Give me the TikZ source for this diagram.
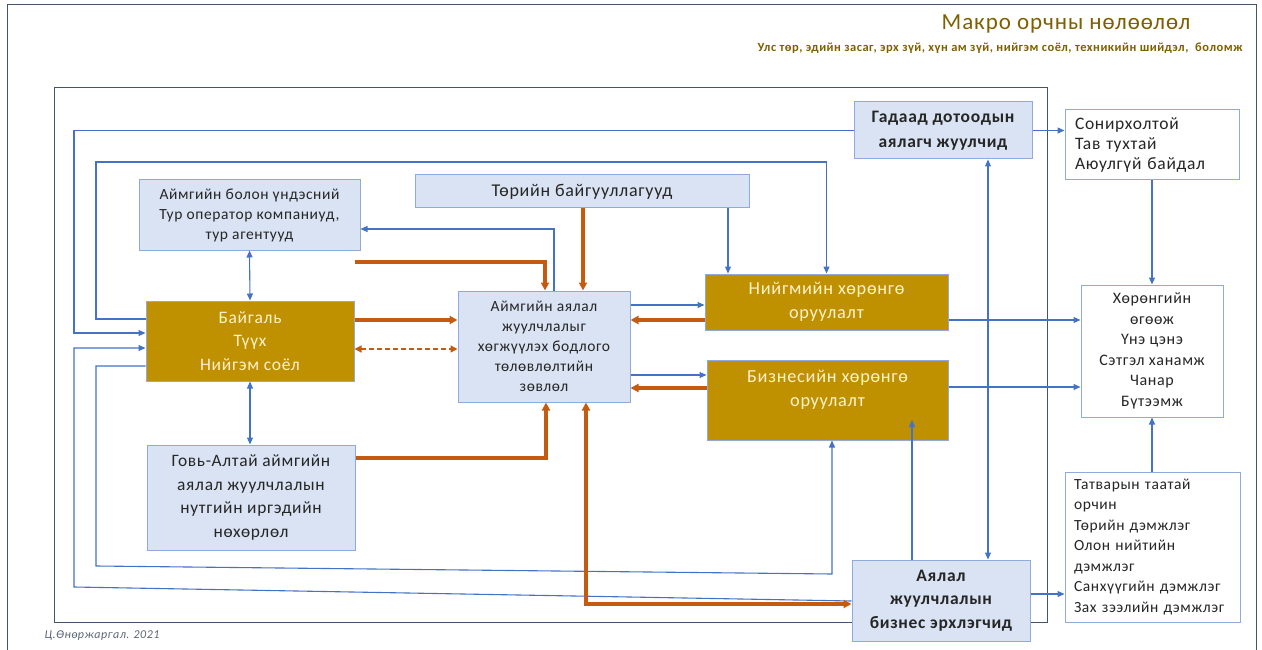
\documentclass[tikz,border=0pt]{standalone}
\usepackage{fontspec}
\setmainfont{Carlito}[LetterSpace=4]
\usetikzlibrary{arrows.meta}

\definecolor{boxfill}{HTML}{DAE3F3}
\definecolor{boxline}{HTML}{8FAADC}
\definecolor{goldfill}{HTML}{BF9000}
\definecolor{goldtext}{HTML}{FFF2CC}
\definecolor{linkblue}{HTML}{4472C4}
\definecolor{flowred}{HTML}{C55A11}
\definecolor{framegray}{HTML}{44546A}
\definecolor{titlegold}{HTML}{7F6000}
\definecolor{notegray}{HTML}{5B6578}

\begin{document}
\begin{tikzpicture}[x=1pt, y=-1pt,
    box/.style={draw=boxline, fill=boxfill, line width=1pt, align=center, inner sep=0pt,
      text=black!85, font=\fontsize{15.5}{20}\selectfont},
    goldbox/.style={box, fill=goldfill, text=goldtext, font=\fontsize{18.3}{23.5}\selectfont},
    boldbox/.style={box, font=\bfseries\fontsize{17.5}{24}\selectfont},
    listbox/.style={box, fill=white, align=left, inner xsep=10pt},
    link/.style={linkblue, line width=1.1pt, -{Triangle[length=7pt,width=6pt]}},
    twoway/.style={linkblue, line width=1.1pt, {Triangle[length=7pt,width=6pt]}-{Triangle[length=7pt,width=6pt]}},
    flow/.style={flowred, line width=3.2pt, -{Triangle[length=8pt,width=8pt]}}]
  \useasboundingbox (0,0) rectangle (1262,650);

  % Draw the frames
  \draw[framegray, line width=1pt] (7,650) -- (7,5) -- (1256,5) -- (1256,650);
  \draw[framegray, line width=1pt] (54,88) rectangle (1047,622);

  % Draw the titles
  \node[text=titlegold, font=\fontsize{23}{26}\selectfont] (title) at (1066,24) {Макро орчны нөлөөлөл};
  \node[anchor=east, text=titlegold, font=\bfseries\fontsize{12.5}{14}\selectfont] (subtitle) at (1246,48)
    {Улс төр, эдийн засаг, эрх зүй, хүн ам зүй, нийгэм соёл, техникийн шийдэл,\ \ боломж};
  \node[anchor=west, text=notegray, font=\itshape\fontsize{12}{15}\selectfont] (note) at (41,636) {Ц.Өнөржаргал. 2021};

  % Draw the boxes
  \node[box, minimum width=221pt, minimum height=70pt] (tour) at (249.5,215)
    {Аймгийн болон үндэсний\\Тур оператор компаниуд,\\тур агентууд};
  \node[box, minimum width=334pt, minimum height=33pt, font=\fontsize{18}{20}\selectfont] (gov) at (582,191.5) {Төрийн байгууллагууд};
  \node[goldbox, minimum width=208pt, minimum height=80pt, font=\fontsize{17.5}{23.5}\selectfont] (nature) at (250,341)
    {Байгаль\\Түүх\\Нийгэм соёл};
  \node[box, minimum width=172pt, minimum height=111pt] (council) at (544,346.5)
    {Аймгийн аялал\\жуулчлалыг\\хөгжүүлэх бодлого\\төлөвлөлтийн\\зөвлөл};
  \node[goldbox, minimum width=243pt, minimum height=56pt] (social) at (826.5,302) {Нийгмийн хөрөнгө\\оруулалт};
  \node[goldbox, minimum width=241pt, minimum height=80pt] (business) at (827.5,400) {Бизнесийн хөрөнгө\\оруулалт\\\mbox{}};
  \node[box, minimum width=208pt, minimum height=105pt, font=\fontsize{17.4}{23.5}\selectfont] (gobi) at (251,497.5)
    {Говь-Алтай аймгийн\\аялал жуулчлалын\\нутгийн иргэдийн\\нөхөрлөл};
  \node[boldbox, minimum width=178pt, minimum height=57pt, font=\bfseries\fontsize{17.5}{25}\selectfont] (travelers) at (943,130.5)
    {Гадаад дотоодын\\аялагч жуулчид};
  \node[boldbox, minimum width=178pt, minimum height=81pt, font=\bfseries\fontsize{17.5}{23.5}\selectfont] (biz) at (941,600.5)
    {Аялал\\жуулчлалын\\бизнес эрхлэгчид};
  \node[listbox, text width=154pt, minimum height=70pt, font=\fontsize{17.5}{20}\selectfont] (attract) at (1152,145)
    {Сонирхолтой\\Тав тухтай\\Аюулгүй байдал};
  \node[box, fill=white, minimum width=142pt, minimum height=132pt, font=\fontsize{16}{20.5}\selectfont] (returns) at (1152,351)
    {Хөрөнгийн\\өгөөж\\Үнэ цэнэ\\Сэтгэл ханамж\\Чанар\\Бүтээмж};
  \node[listbox, inner xsep=9pt, text width=157pt, minimum height=150pt, font=\fontsize{15.5}{20.5}\selectfont] (support) at (1152.5,547)
    {Татварын таатай\\орчин\\Төрийн дэмжлэг\\Олон нийтийн\\дэмжлэг\\Санхүүгийн дэмжлэг\\Зах зээлийн дэмжлэг};

  % Draw the free ends
  \coordinate (tourout) at (355,262);
  \coordinate (bizin) at (912,420);

  % Draw the blue links round the left side
  \draw[link] (travelers.west) -| (74,333) -- (nature.west |- 0,333);
  \draw[link] (nature.west |- 0,319) -| (96,162) -| (social.north);
  \draw[link] (biz.west |- 0,601) -- (74,587) |- (nature.west |- 0,348);
  \draw[link] (nature.west |- 0,366) -| (96,566) -- (832,574) -- (business.south -| 832,0);

  % Draw the blue links in the middle
  \draw[twoway] (tour.south) -- (nature.north);
  \draw[twoway] (nature.south) -- (nature.south |- gobi.north);
  \draw[link] (council.north -| 554,0) |- (tour.east |- 0,229);
  \draw[link] (gov.south -| 728,0) -- (social.north -| 728,0);
  \draw[link] (council.east |- 0,305) -- (social.west |- 0,305);
  \draw[link] (council.east |- 0,375) -- (business.west |- 0,375);
  \draw[link] (biz.north -| 912,0) -- (bizin);
  \draw[twoway] (travelers.south -| 988,0) -- (biz.north -| 988,0);

  % Draw the blue links on the right
  \draw[link] (social.east |- 0,320) -- (returns.west |- 0,320);
  \draw[link] (business.east |- 0,387) -- (returns.west |- 0,387);
  \draw[link] (travelers.east) -- (attract.west |- travelers.east);
  \draw[link] (attract.south) -- (attract.south |- returns.north);
  \draw[link] (support.north -| returns.south) -- (returns.south);
  \draw[link] (biz.east |- 0,594) -- (support.west |- 0,594);

  % Draw the orange flows into the council
  \draw[flow] (nature.east |- 0,320) -- (council.west |- 0,320);
  \draw[flowred, line width=1.4pt, dash pattern=on 5pt off 3pt, {Triangle[length=7pt,width=7pt]}-{Triangle[length=7pt,width=7pt]}]
    (nature.east |- 0,349) -- (council.west |- 0,349);
  \draw[flow] (tourout) -| (council.north -| 545,0);
  \draw[flow] (gov.south -| 583,0) -- (council.north -| 583,0);
  \draw[flow] (social.west |- 0,320) -- (council.east |- 0,320);
  \draw[flow] (business.west |- 0,388) -- (council.east |- 0,388);
  \draw[flow] (gobi.east |- 0,458) -| (council.south -| 546,0);
  \draw[flow, {Triangle[length=8pt,width=8pt]}-{Triangle[length=8pt,width=8pt]}]
    (council.south -| 586,0) |- (biz.west |- 0,604);
\end{tikzpicture}
\end{document}
